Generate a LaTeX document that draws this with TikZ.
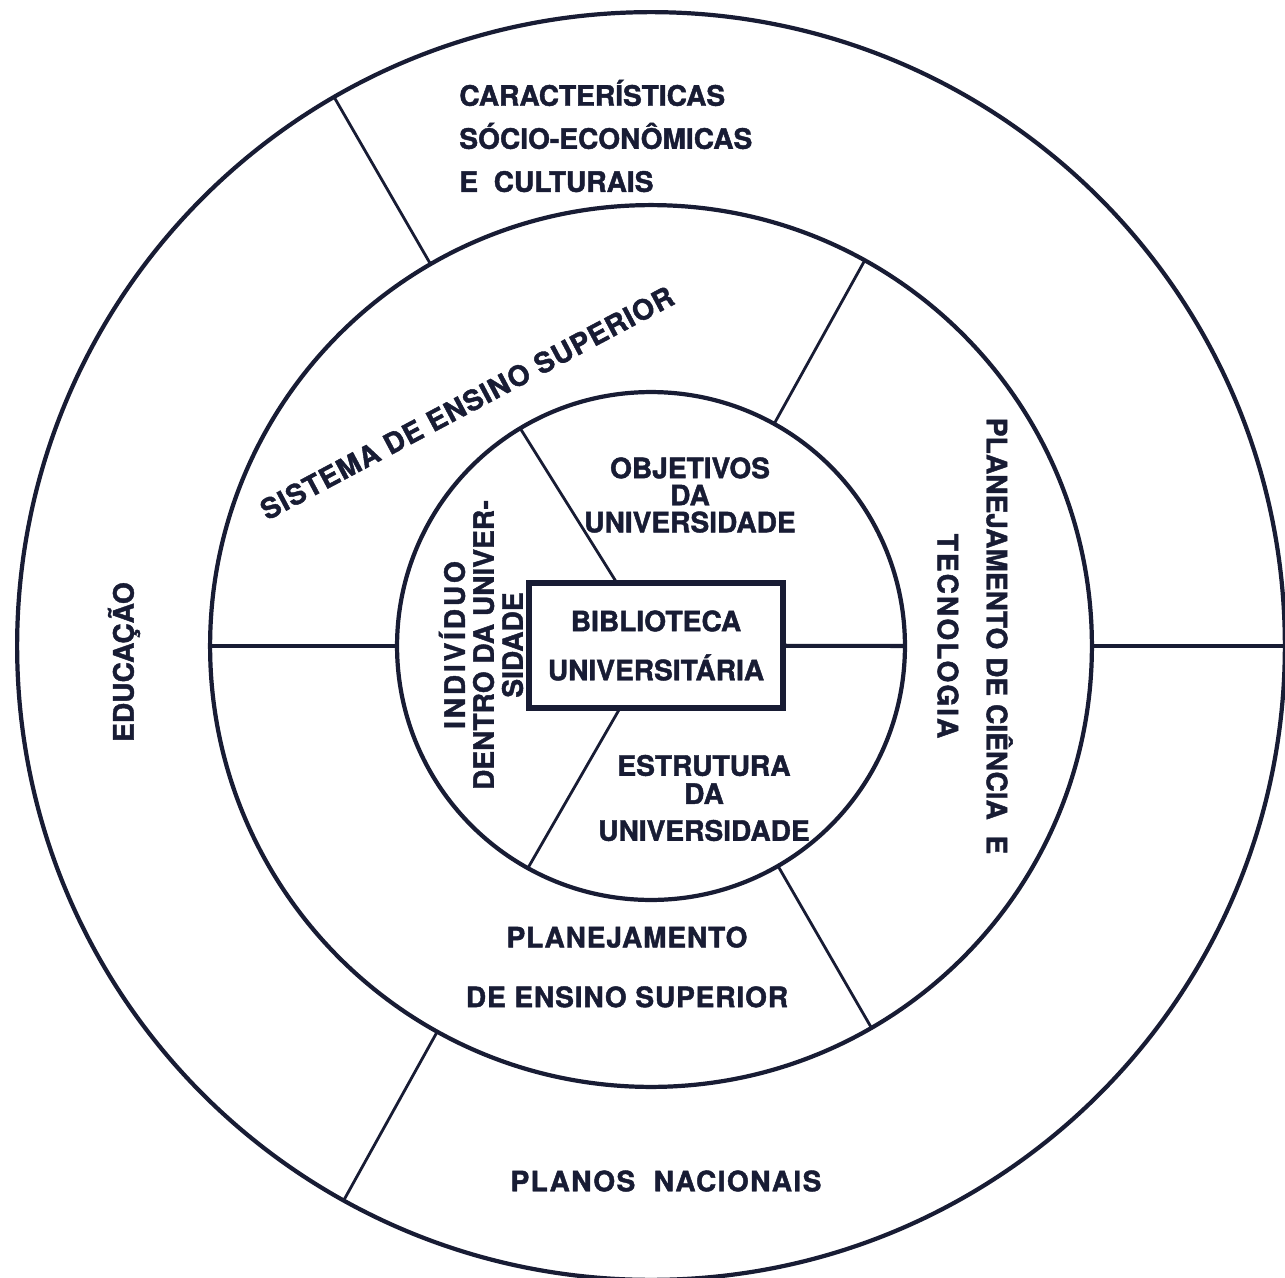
\documentclass[tikz,border=0pt]{standalone}
\usepackage{fontspec}
\setmainfont{TeX Gyre Heros}[BoldFeatures={FakeBold=1.5}]
\definecolor{ink}{RGB}{24,28,52}
\newcommand{\lsp}[1]{\addfontfeatures{LetterSpace=#1}}
\newcommand{\fsz}[1]{\bfseries\fontsize{16}{#1}\selectfont}
\begin{document}
\begin{tikzpicture}[x=0.02cm, y=-0.02cm,
  ring/.style={draw=ink, circle, line width=2.4pt, inner sep=0pt, outer sep=0pt},
  spoke/.style={draw=ink, line width=1.6pt},
  hspoke/.style={draw=ink, line width=2.3pt},
  lbl/.style={text=ink, inner sep=0pt, font=\fsz{19}},
  bibbox/.style={draw=ink, line width=3pt, rectangle, inner sep=0pt, outer sep=0pt,
    minimum width=5.08cm, minimum height=2.5cm, align=center, text=ink, font=\fsz{27.9}}
]
\fill[white] (0,0) rectangle (1285,1278);
\useasboundingbox (0,0) rectangle (1285,1278);
\clip (0,0) rectangle (1285,1278);

% rings
\node[ring, minimum size=25.36cm] (outer) at (651,646) {};
\node[ring, minimum size=17.64cm] (middle) at (651,646) {};
\node[ring, minimum size=10.16cm] (inner) at (651,646) {};
\node[bibbox] (bib) at (656,645.5) {BIBLIOTECA\\UNIVERSIT\'ARIA};

% spokes of outer ring
\draw[spoke] (middle.120) -- (outer.120);
\draw[hspoke] (middle.0) -- (outer.0);
\draw[spoke] (middle.241.3) -- (outer.241.3);
% spokes of middle ring
\draw[spoke] (inner.61) -- (middle.61);
\draw[hspoke] (middle.180) -- (inner.180);
\draw[spoke] (inner.-60) -- (middle.-60);
% spokes of inner ring
\draw[spoke] (inner.121) -- (bib);
\draw[spoke] (inner.241.5) -- (bib);
\draw[hspoke] (bib) -- (inner.0);

% labels
\node[lbl, align=left, anchor=west, font=\fsz{24.5}] (car) at (459,136)
  {CARACTERÍSTICAS\\SÓCIO-ECONÔMICAS\\E\ \ CULTURAIS};
\node[lbl, rotate=28, font=\fsz{19}\lsp{3.4}] (sis) at (467,403)
  {SISTEMA DE ENSINO SUPERIOR};
\node[lbl, rotate=90] (edu) at (124,662) {EDUCAÇÃO};
\node[lbl, rotate=-90, align=center, font=\fsz{27.9}] (cien) at (975,636)
  {PLANEJAMENTO DE CIÊNCIA\ \ E\\{\lsp{7}TECNOLOGIA}};
\node[lbl, rotate=90, align=center, font=\fsz{16.5}] (ind) at (481,645)
  {{\lsp{10}INDIVÍDUO}\\DENTRO DA UNIVER-\\SIDADE};
\node[lbl, align=center, font=\fsz{15.4}] (obj) at (690,495)
  {OBJETIVOS\\DA\\UNIVERSIDADE};
\node[lbl, align=center, font=\fsz{16}] (est) at (704,798)
  {ESTRUTURA\\DA\\[5pt]UNIVERSIDADE};
\node[lbl, align=center, font=\fsz{34}\lsp{3}] (pes) at (627,967)
  {PLANEJAMENTO\\DE ENSINO SUPERIOR};
\node[lbl, font=\fsz{19}\lsp{5}] (pn) at (666,1181) {PLANOS\ \ NACIONAIS};
\end{tikzpicture}
\end{document}
